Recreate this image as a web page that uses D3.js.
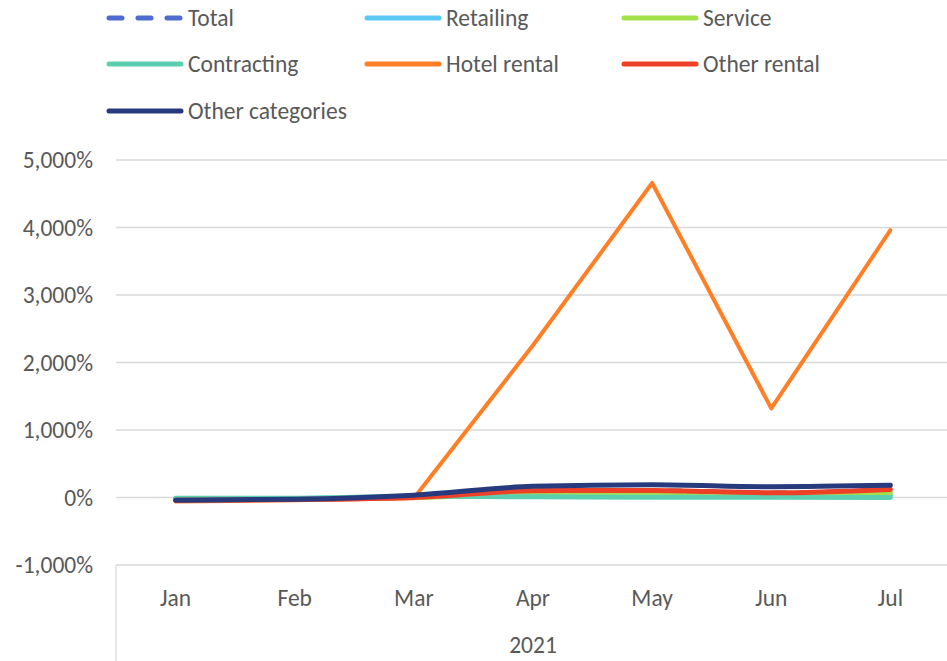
<!DOCTYPE html>
<html><head><meta charset="utf-8">
<script src="https://cdn.jsdelivr.net/npm/d3@7"></script>
<style>body{margin:0;background:#fff;}svg{display:block;}</style>
</head><body>
<svg id="chart" width="947" height="661"></svg>
<script>
const months = ["Jan","Feb","Mar","Apr","May","Jun","Jul"];
const yearLabel = "2021";
const yTicks = [-1000,0,1000,2000,3000,4000,5000];
const seriesNames = ["Total","Retailing","Service","Contracting","Hotel rental","Other rental","Other categories"];
const seriesColors = ["#4f6bd0","#5bc8f5","#a4e04a","#5ccfb0","#ff7f27","#ee4027","#283a7e"];
const totalVals = [-35,-25,5,95,100,65,110];
const retailingVals = [-20,-15,10,30,30,20,30];
const serviceVals = [-30,-20,0,50,60,40,70];
const contractingVals = [-10,-10,20,10,5,5,0];
const hotelVals = [-60,-40,-10,2255,4660,1320,3960];
const otherRentalVals = [-40,-30,0,100,105,70,120];
const otherCatVals = [-40,-25,35,165,190,160,180];
const allVals = [totalVals,retailingVals,serviceVals,contractingVals,hotelVals,otherRentalVals,otherCatVals];

(function(){
const svg = d3.select("#chart");
const font = "Carlito, Calibri, Lato, sans-serif";
const fs = 23.5;
const textColor = "#595959";
const pLeft = 116, pRight = 950, pTop = 160, pBottom = 565;

const x = d3.scaleBand().domain(months).range([pLeft, pRight]);
const y = d3.scaleLinear().domain([-1000,5000]).range([pBottom, pTop]);

svg.append("g").selectAll("line").data(yTicks).join("line")
  .attr("x1", pLeft).attr("x2", pRight)
  .attr("y1", d=>y(d)).attr("y2", d=>y(d))
  .attr("stroke", "#d9d9d9").attr("stroke-width", 1.3);

const fmt = d => d3.format(",")(d).replace("\u2212","-") + "%";
svg.append("g").selectAll("text").data(yTicks).join("text")
  .attr("x", 93).attr("y", d=>y(d)).attr("dy","0.35em")
  .attr("text-anchor","end").attr("font-family",font).attr("font-size",fs)
  .attr("fill",textColor).text(fmt);

svg.append("line").attr("x1",pLeft).attr("x2",pLeft).attr("y1",pBottom).attr("y2",661)
  .attr("stroke","#d9d9d9").attr("stroke-width",1.3);
svg.append("g").selectAll("text").data(months).join("text")
  .attr("x", d=>x(d)+x.bandwidth()/2).attr("y", 598).attr("dy","0.35em")
  .attr("text-anchor","middle").attr("font-family",font).attr("font-size",fs)
  .attr("fill",textColor).text(d=>d);
svg.append("text").attr("x",(pLeft+pRight)/2).attr("y",645).attr("dy","0.35em")
  .attr("text-anchor","middle").attr("font-family",font).attr("font-size",fs)
  .attr("fill",textColor).text(yearLabel);

const line = d3.line().x((d,i)=>x(months[i])+x.bandwidth()/2).y(d=>y(d)).curve(d3.curveMonotoneX);
const lineStraight = d3.line().x((d,i)=>x(months[i])+x.bandwidth()/2).y(d=>y(d));
svg.append("g").selectAll("path").data(allVals).join("path")
  .attr("d", (d,i)=> i===4 ? lineStraight(d) : line(d))
  .attr("fill","none")
  .attr("stroke",(d,i)=>seriesColors[i])
  .attr("stroke-width",(d,i)=> i===4 ? 4 : 5)
  .attr("stroke-linecap","round").attr("stroke-linejoin","round")
  .attr("stroke-dasharray",(d,i)=> i===0 ? "12,14" : null);

const legendCols = [107, 365, 622];
const legendRows = [18, 64, 111];
const lg = svg.append("g").selectAll("g").data(seriesNames).join("g")
  .attr("transform",(d,i)=>`translate(${legendCols[i%3]},${legendRows[Math.floor(i/3)]})`);
lg.append("line").attr("x1",2).attr("x2",(d,i)=> i===0?76:74).attr("y1",0).attr("y2",0)
  .attr("stroke",(d,i)=>seriesColors[i]).attr("stroke-width",5).attr("stroke-linecap","round")
  .attr("stroke-dasharray",(d,i)=> i===0 ? "13,16" : null);
lg.append("text").attr("x",81).attr("y",0).attr("dy","0.35em")
  .attr("font-family",font).attr("font-size",fs).attr("fill",textColor).text(d=>d);
})();
</script>
</body></html>
